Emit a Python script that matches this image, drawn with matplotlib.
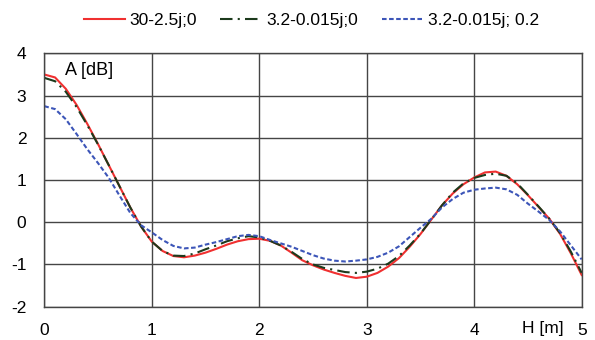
import numpy as np
import matplotlib.pyplot as plt

plt.rcParams['font.family'] = ['Liberation Sans', 'DejaVu Sans']
plt.rcParams['axes.unicode_minus'] = False

# H [m] sample positions
h = [0.0, 0.1, 0.2, 0.3, 0.4, 0.5, 0.6, 0.7, 0.8, 0.9,
     1.0, 1.1, 1.2, 1.3, 1.4, 1.5, 1.6, 1.7, 1.8, 1.9,
     2.0, 2.1, 2.2, 2.3, 2.4, 2.5, 2.6, 2.7, 2.8, 2.9,
     3.0, 3.1, 3.2, 3.3, 3.4, 3.5, 3.6, 3.7, 3.8, 3.9,
     4.0, 4.1, 4.2, 4.3, 4.4, 4.5, 4.6, 4.7, 4.8, 4.9, 5.0]

# 30-2.5j;0
a_red = [3.50, 3.43, 3.16, 2.78, 2.33, 1.85, 1.35, 0.85, 0.35, -0.10,
         -0.46, -0.68, -0.80, -0.83, -0.79, -0.72, -0.63, -0.53, -0.45, -0.40,
         -0.39, -0.44, -0.55, -0.72, -0.90, -1.02, -1.12, -1.20, -1.27, -1.32,
         -1.29, -1.20, -1.05, -0.85, -0.58, -0.28, 0.06, 0.40, 0.68, 0.90,
         1.06, 1.18, 1.20, 1.10, 0.90, 0.64, 0.36, 0.08, -0.28, -0.74, -1.25]

# 3.2-0.015j;0
a_green = [3.42, 3.34, 3.09, 2.73, 2.30, 1.84, 1.35, 0.85, 0.35, -0.10,
           -0.46, -0.68, -0.79, -0.80, -0.74, -0.64, -0.55, -0.45, -0.38, -0.33,
           -0.36, -0.44, -0.55, -0.70, -0.87, -1.00, -1.08, -1.13, -1.18, -1.20,
           -1.17, -1.10, -0.98, -0.80, -0.55, -0.27, 0.06, 0.40, 0.70, 0.92,
           1.05, 1.12, 1.15, 1.10, 0.92, 0.65, 0.37, 0.08, -0.26, -0.70, -1.20]

# 3.2-0.015j; 0.2
a_blue = [2.75, 2.68, 2.44, 2.09, 1.73, 1.40, 1.05, 0.63, 0.22, -0.07,
          -0.24, -0.42, -0.56, -0.62, -0.60, -0.53, -0.47, -0.40, -0.33, -0.30,
          -0.33, -0.42, -0.50, -0.58, -0.68, -0.78, -0.86, -0.91, -0.93, -0.91,
          -0.88, -0.82, -0.72, -0.57, -0.35, -0.13, 0.08, 0.35, 0.55, 0.70,
          0.77, 0.80, 0.82, 0.78, 0.65, 0.44, 0.25, 0.05, -0.22, -0.55, -0.88]

xticks = [0, 1, 2, 3, 4, 5]
xlabels = ['0', '1', '2', '3', '4', '5']
yticks = [-2, -1, 0, 1, 2, 3, 4]

fig = plt.figure(figsize=(5.95, 3.40), dpi=100)
ax = fig.add_axes([0.0745, 0.098, 0.9031, 0.745])

ax.plot(h, a_red, color='#f03030', lw=1.5, label='30-2.5j;0')
ax.plot(h, a_green, color='#1c3a1c', lw=1.5, dashes=(6, 2.5, 1, 2.5), label='3.2-0.015j;0')
ax.plot(h, a_blue, color='#3c55b8', lw=1.5, dashes=(2.2, 1.2), label='3.2-0.015j; 0.2')

ax.set_xlim(0, 5)
ax.set_ylim(-2, 4)
ax.set_xticks(xticks, xlabels)
ax.set_yticks(yticks)
ax.tick_params(axis='y', length=0, labelsize=12.5, pad=13)
ax.tick_params(axis='x', length=0, labelsize=12.5, pad=11.5)
ax.grid(True, color='#454545', lw=1)
for s in ax.spines.values():
    s.set_color('#454545')
    s.set_linewidth(1)

ax.text(0.038, 0.965, 'A [dB]', transform=ax.transAxes, fontsize=13,
        va='top', ha='left')
fig.text(0.948, 0.035, 'H [m]', fontsize=12.5, ha='right', va='center')

fig.legend(loc='center', bbox_to_anchor=(0.523, 0.94), ncol=3,
           frameon=False, fontsize=12.5, handlelength=2.4, columnspacing=1.35,
           handletextpad=0.25)

fig.savefig('out.png', dpi=100)
